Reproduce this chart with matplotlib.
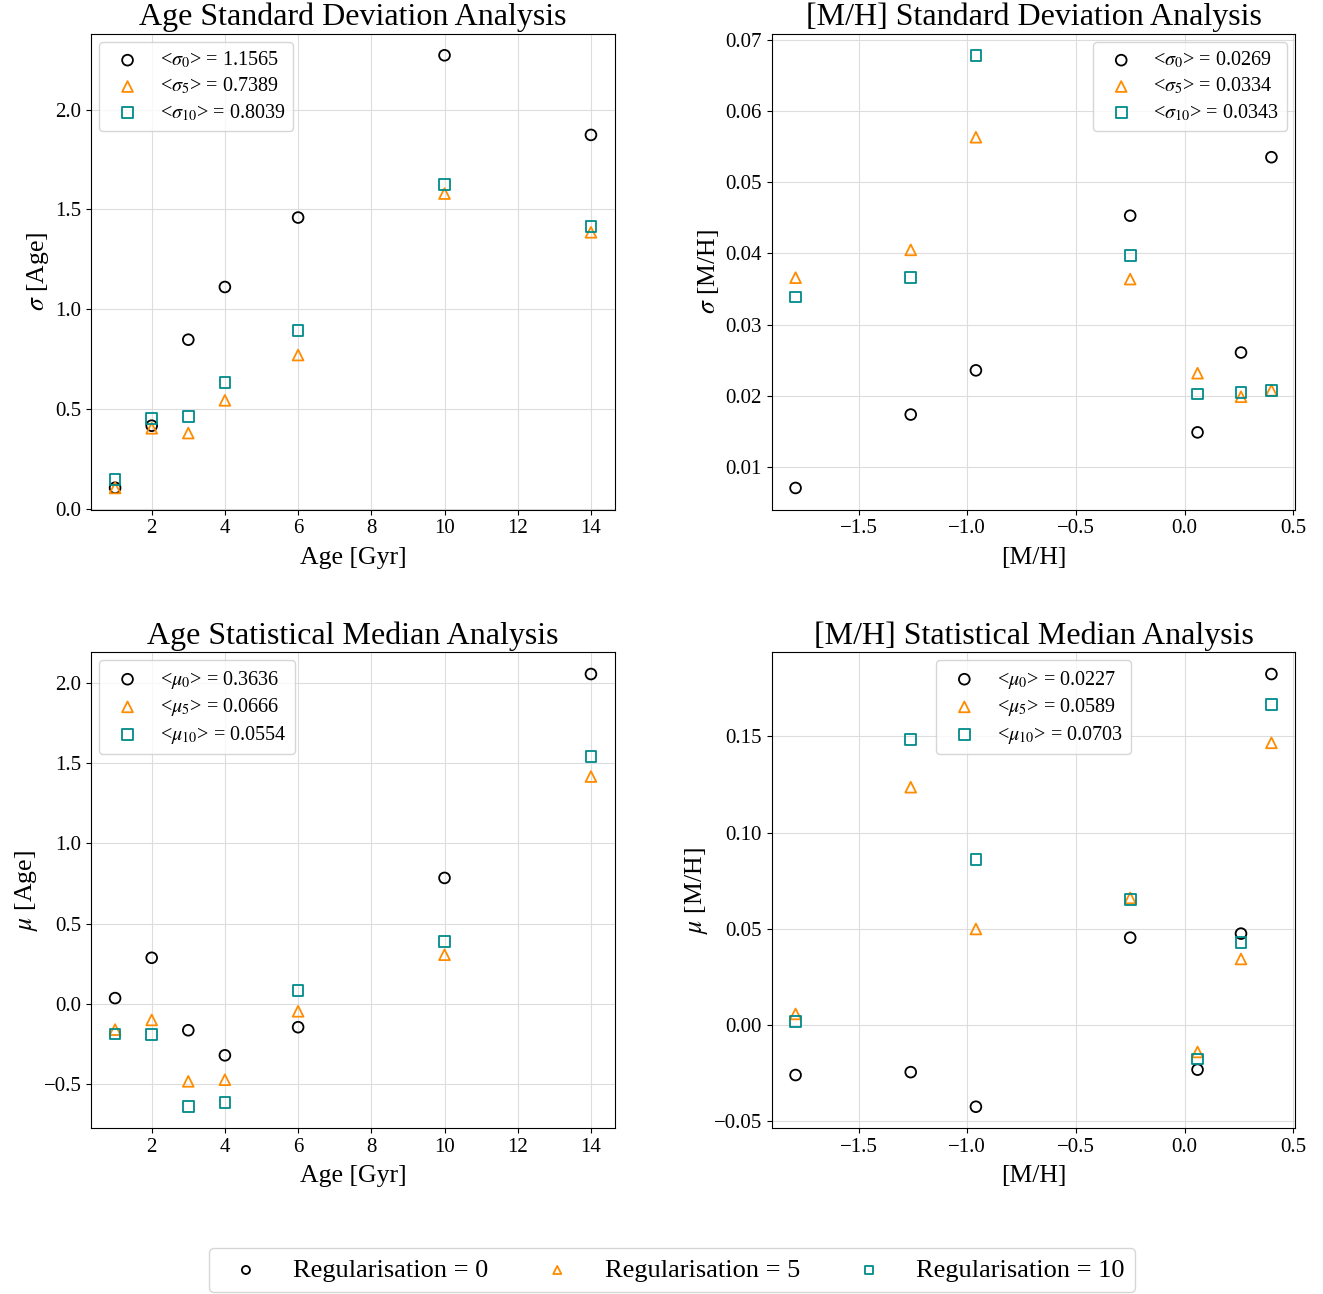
import numpy as np
import matplotlib
matplotlib.use('Agg')
import matplotlib.pyplot as plt

plt.rcParams['font.family'] = ['Liberation Serif', 'DejaVu Serif']
plt.rcParams['mathtext.fontset'] = 'stix'
plt.rcParams['axes.unicode_minus'] = True

# grid points
ages = [1, 2, 3, 4, 6, 10, 14]
metals = [-1.79, -1.26, -0.96, -0.25, 0.06, 0.26, 0.40]
regs = [0, 5, 10]

# standard deviation of recovered age, one list per regularisation
age_std_0 = [0.105, 0.416, 0.847, 1.111, 1.459, 2.272, 1.873]
age_std_5 = [0.104, 0.403, 0.379, 0.543, 0.770, 1.579, 1.385]
age_std_10 = [0.145, 0.454, 0.463, 0.633, 0.894, 1.624, 1.415]
age_std_means = ['1.1565', '0.7389', '0.8039']

# standard deviation of recovered [M/H]
mh_std_0 = [0.0071, 0.0174, 0.0236, 0.0453, 0.0149, 0.0261, 0.0535]
mh_std_5 = [0.0366, 0.0405, 0.0563, 0.0364, 0.0232, 0.0199, 0.0208]
mh_std_10 = [0.0339, 0.0366, 0.0678, 0.0397, 0.0203, 0.0205, 0.0208]
mh_std_means = ['0.0269', '0.0334', '0.0343']

# median offset of recovered age
age_med_0 = [0.036, 0.287, -0.164, -0.320, -0.145, 0.784, 2.053]
age_med_5 = [-0.160, -0.100, -0.482, -0.472, -0.046, 0.306, 1.415]
age_med_10 = [-0.187, -0.192, -0.640, -0.613, 0.084, 0.387, 1.542]
age_med_means = ['0.3636', '0.0666', '0.0554']

# median offset of recovered [M/H]
mh_med_0 = [-0.0262, -0.0247, -0.0427, 0.0453, -0.0234, 0.0474, 0.1825]
mh_med_5 = [0.0056, 0.1236, 0.0498, 0.0660, -0.0142, 0.0342, 0.1467]
mh_med_10 = [0.0016, 0.1486, 0.0861, 0.0651, -0.0179, 0.0427, 0.1668]
mh_med_means = ['0.0227', '0.0589', '0.0703']

markers = ['o', '^', 's']
colors = ['black', 'darkorange', 'darkcyan']

fig, axs = plt.subplots(2, 2, figsize=(13.23, 12.94), dpi=100)
fig.subplots_adjust(left=0.069, right=0.979, top=0.974, bottom=0.128,
                    wspace=0.30, hspace=0.30)

panels = [
    (axs[0, 0], ages, [age_std_0, age_std_5, age_std_10], age_std_means, r'\sigma',
     'Age Standard Deviation Analysis', 'Age [Gyr]', r'$\sigma$ [Age]', 'upper left'),
    (axs[0, 1], metals, [mh_std_0, mh_std_5, mh_std_10], mh_std_means, r'\sigma',
     '[M/H] Standard Deviation Analysis', '[M/H]', r'$\sigma$ [M/H]', 'upper right'),
    (axs[1, 0], ages, [age_med_0, age_med_5, age_med_10], age_med_means, r'\mu',
     'Age Statistical Median Analysis', 'Age [Gyr]', r'$\mu$ [Age]', 'upper left'),
    (axs[1, 1], metals, [mh_med_0, mh_med_5, mh_med_10], mh_med_means, r'\mu',
     '[M/H] Statistical Median Analysis', '[M/H]', r'$\mu$ [M/H]', 'upper center'),
]

for ax, x, series, means, sym, title, xlab, ylab, loc in panels:
    for r, y, m, mk, c in zip(regs, series, means, markers, colors):
        ax.scatter(x, y, marker=mk, s=60, facecolors='none', edgecolors=c,
                   linewidths=1.3, label=r'<$%s_{%d}$> = %s' % (sym, r, m))
    ax.set_title(title, fontsize=23)
    ax.set_xlabel(xlab, fontsize=18.5, labelpad=6)
    ax.set_ylabel(ylab, fontsize=18.5, labelpad=3)
    ax.tick_params(labelsize=15)
    ax.grid(True, color='#dddddd', linewidth=0.8)
    ax.set_axisbelow(True)
    ax.legend(loc=loc, fontsize=14.5, labelspacing=0.28, handletextpad=0.6,
              borderaxespad=0.4)

axs[0, 0].set_xticks([2, 4, 6, 8, 10, 12, 14])
axs[1, 0].set_xticks([2, 4, 6, 8, 10, 12, 14])

handles = [plt.scatter([], [], marker=mk, s=60, facecolors='none', edgecolors=c, linewidths=1.3)
           for mk, c in zip(markers, colors)]
fig.legend(handles, ['Regularisation = %d' % r for r in regs], loc='lower center',
           ncol=3, fontsize=19, markerscale=0.75, columnspacing=1.6,
           bbox_to_anchor=(0.508, -0.009))

fig.savefig('out.png', dpi=100)
